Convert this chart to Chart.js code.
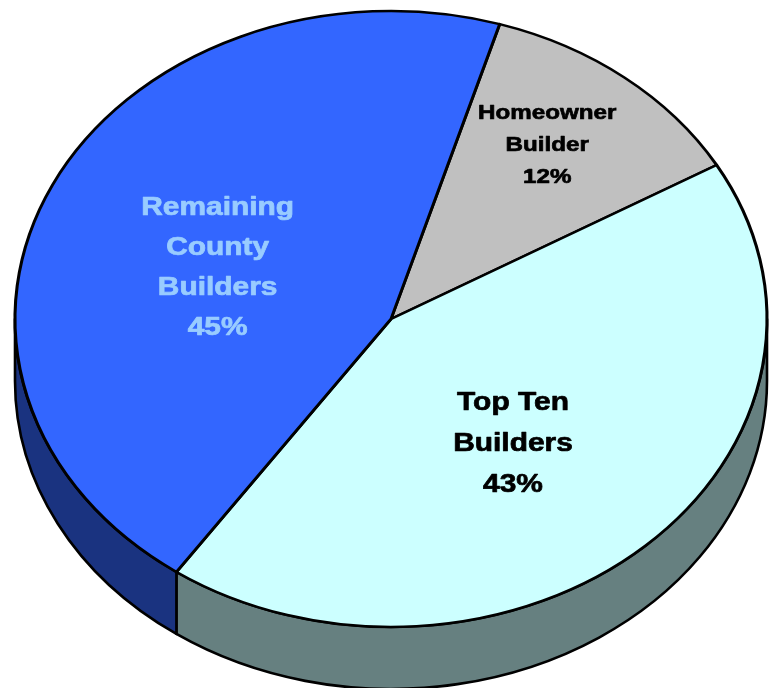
<!DOCTYPE html>
<html>
<head>
<meta charset="utf-8">
<script src="https://cdn.jsdelivr.net/npm/chart.js@4/dist/chart.umd.min.js"></script>
<style>
  html, body { margin: 0; padding: 0; background: #fff; }
  #pie { display: block; }
</style>
</head>
<body>
<canvas id="pie" width="776" height="688"></canvas>
<script>
// builder share, clockwise from the top
const labels   = [['Homeowner', 'Builder'], ['Top Ten', 'Builders'], ['Remaining', 'County', 'Builders']];
const shares   = [12, 43, 45];
const topColor = ['#c0c0c0', '#ccffff', '#3366ff'];
const sideColor = ['#606060', '#668080', '#1a3380'];
const textColor = ['#000000', '#000000', '#99ccff'];

// ellipse the flat pie is squashed into, plus the extrusion depth
const TILT = { cx: 391, cy: 319, rx: 376, ry: 308, depth: 62 };

// label placement: radial fraction + angle nudge (deg), font size, line step
const LBL = [
  { r: 0.70, nudge: -2,  size: 21, step: 32 },
  { r: 0.52, nudge: 4,   size: 26, step: 41 },
  { r: 0.49, nudge: -6,  size: 26, step: 40 },
];
const STRETCH = 1.15;

function frontPart(a, b) {
  // clip [a,b] to the visible front half (0..PI), shifting by whole turns
  for (let k = -1; k <= 1; k++) {
    const s = Math.max(a + k * 2 * Math.PI, 0), e = Math.min(b + k * 2 * Math.PI, Math.PI);
    if (e > s) return [s, e];
  }
  return null;
}

const pie3d = {
  id: 'pie3d',
  beforeDatasetsDraw(chart) {
    const ctx = chart.ctx;
    const arcs = chart.getDatasetMeta(0).data;
    const { x, y, outerRadius: R } = arcs[0];
    const { cx, cy, rx, ry, depth } = TILT;

    // side walls
    ctx.save();
    ctx.lineWidth = 2.6;
    ctx.strokeStyle = '#000';
    ctx.lineJoin = 'round';
    arcs.forEach((arc, i) => {
      const part = frontPart(arc.startAngle, arc.endAngle);
      if (!part) return;
      const [a, b] = part;
      ctx.beginPath();
      ctx.ellipse(cx, cy, rx, ry, 0, a, b, false);
      ctx.lineTo(cx + rx * Math.cos(b), cy + depth + ry * Math.sin(b));
      ctx.ellipse(cx, cy + depth, rx, ry, 0, b, a, true);
      ctx.closePath();
      ctx.fillStyle = sideColor[i];
      ctx.fill();
      ctx.stroke();
    });
    ctx.restore();

    // squash the library's round pie into the top face
    ctx.save();
    ctx.setTransform(rx / R, 0, 0, ry / R, cx - x * rx / R, cy - y * ry / R);
  },
  afterDatasetsDraw(chart) {
    chart.ctx.restore();
  },
  afterDraw(chart) {
    const ctx = chart.ctx;
    const arcs = chart.getDatasetMeta(0).data;
    const { cx, cy, rx, ry } = TILT;
    ctx.save();
    ctx.textAlign = 'center';
    ctx.textBaseline = 'middle';
    ctx.lineWidth = 0.7;
    ctx.lineJoin = 'round';
    arcs.forEach((arc, i) => {
      const o = LBL[i];
      const mid = (arc.startAngle + arc.endAngle) / 2 + o.nudge * Math.PI / 180;
      const lx = cx + o.r * rx * Math.cos(mid);
      const ly = cy + o.r * ry * Math.sin(mid);
      const lines = [...labels[i], shares[i] + '%'];
      ctx.font = `bold ${o.size}px "Liberation Sans", Arial, sans-serif`;
      ctx.fillStyle = textColor[i];
      ctx.strokeStyle = textColor[i];
      lines.forEach((t, j) => {
        const ty = ly + (j - (lines.length - 1) / 2) * o.step;
        ctx.save();
        ctx.translate(lx, ty);
        ctx.scale(STRETCH, 1);
        ctx.fillText(t, 0, 0);
        ctx.strokeText(t, 0, 0);
        ctx.restore();
      });
    });
    ctx.restore();
  },
};

new Chart(document.getElementById('pie'), {
  type: 'pie',
  data: {
    labels: labels.map(l => l.join(' ')),
    datasets: [{
      data: shares,
      backgroundColor: topColor,
      borderColor: '#000',
      borderWidth: 2.8,
      borderJoinStyle: 'round',
    }],
  },
  options: {
    responsive: false,
    devicePixelRatio: 1,
    animation: false,
    rotation: 16.8,
    layout: { padding: 0 },
    plugins: { legend: { display: false }, tooltip: { enabled: false } },
  },
  plugins: [pie3d],
});
</script>
</body>
</html>
